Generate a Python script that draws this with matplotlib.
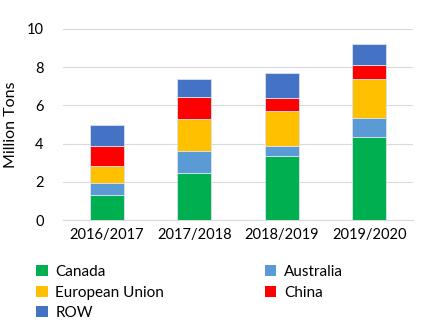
import numpy as np
import matplotlib
matplotlib.use("Agg")
import matplotlib.pyplot as plt
from matplotlib.patches import Patch

plt.rcParams["font.family"] = ["Lato", "DejaVu Sans"]

years = ["2016/2017", "2017/2018", "2018/2019", "2019/2020"]
series = ["Canada", "Australia", "European Union", "China", "ROW"]
canada = [1.31, 2.48, 3.37, 4.36]
australia = [0.64, 1.15, 0.52, 0.98]
eu = [0.89, 1.64, 1.82, 2.04]
china = [1.05, 1.19, 0.69, 0.75]
row = [1.08, 0.90, 1.28, 1.10]
colors = ["#00B050", "#5B9BD5", "#FFC000", "#FF0000", "#4472C4"]

fig = plt.figure(figsize=(4.27, 3.35), dpi=100)
ax = fig.add_axes([63 / 427, 1 - 220 / 335, 350 / 427, 191 / 335])

x = np.arange(len(years))
bottom = np.zeros(len(years))
handles = []
for name, vals, c in zip(series, [canada, australia, eu, china, row], colors):
    ax.bar(x, vals, width=0.39, bottom=bottom, color=c, edgecolor="#d9e2ef", linewidth=0.6, zorder=3)
    bottom += np.array(vals)
    handles.append(Patch(facecolor=c, label=name))

ax.set_xlim(-0.5, 3.5)
ax.set_ylim(0, 10)
ax.set_yticks([0, 2, 4, 6, 8, 10])
ax.set_xticks(x)
ax.set_xticklabels(years)
ax.grid(axis="y", color="#d9d9d9", linewidth=0.8, zorder=0)
for s in ["top", "right", "left"]:
    ax.spines[s].set_visible(False)
ax.spines["bottom"].set_color("#d9d9d9")
ax.tick_params(axis="both", length=0, labelsize=10.5, colors="black")
ax.tick_params(axis="y", pad=14)
ax.tick_params(axis="x", pad=6)
ax.set_ylabel("Million Tons", fontsize=11.5, labelpad=6)

order = [0, 2, 4, 1, 3]
fig.legend([handles[i] for i in order], [series[i] for i in order],
           ncol=2, loc="upper left", bbox_to_anchor=(30 / 427, 1 - 259 / 335),
           frameon=False, fontsize=11, handlelength=0.75, handleheight=0.75,
           handletextpad=0.5, columnspacing=6.6, labelspacing=0.42, borderaxespad=0)

fig.savefig("out.png", dpi=100)
